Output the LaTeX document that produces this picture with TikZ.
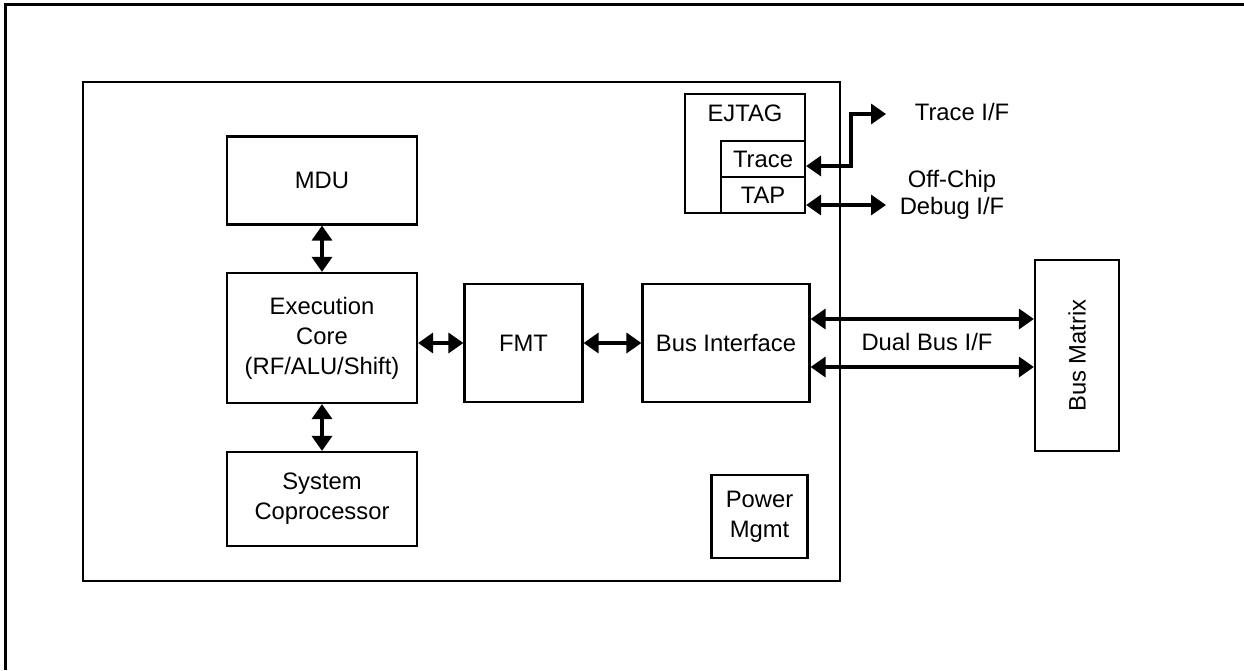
\documentclass[tikz,border=0pt]{standalone}
\usepackage{fontspec}
\setmainfont{Liberation Sans}
\usetikzlibrary{arrows.meta}

\begin{document}
\begin{tikzpicture}[x=1pt,y=-1pt,
    blk/.style={draw,line width=2.2pt,inner sep=0pt,align=center,
      font=\fontsize{23.8}{30}\selectfont},
    lbl/.style={inner sep=0pt,align=center,font=\fontsize{23.8}{30}\selectfont},
    dblarr/.style={line width=3.5pt,line join=miter,
      {Triangle[length=15pt,width=20pt]}-{Triangle[length=15pt,width=20pt]}},
    onearr/.style={line width=3.5pt,-{Triangle[length=15pt,width=20pt]}}]
    \useasboundingbox (0,0) rectangle (1244,670);
    % page frame (cut at right and bottom)
    \draw[line width=3pt] (5,670) -- (5,4) -- (1244,4);
    % core
    \node[blk,minimum width=757,minimum height=499] (chip) at (461.5,331.5) {};
    \node[blk,minimum width=190,minimum height=88] (mdu) at (322,180.5) {MDU};
    \node[blk,minimum width=190,minimum height=130] (exec) at (322,338)
      {Execution\\Core\\(RF/ALU/Shift)};
    \node[blk,minimum width=190,minimum height=94] (sysco) at (322,499)
      {System\\Coprocessor};
    \node[blk,minimum width=118,minimum height=118] (fmt) at (523.5,343) {FMT};
    \node[blk,minimum width=167,minimum height=118] (busif) at (726,343) {Bus Interface};
    \node[blk,minimum width=96,minimum height=83] (power) at (759.5,516.5) {Power\\Mgmt};
    % ejtag
    \node[blk,minimum width=120,minimum height=119] (ejtag) at (745,153.5) {};
    \node[lbl] (ejtagtxt) at (745,113) {EJTAG};
    \node[blk,minimum width=84,minimum height=36] (trace) at (763,159) {Trace};
    \node[blk,minimum width=84,minimum height=36] (tap) at (763,195) {TAP};
    % outside
    \node[blk,rotate=90,minimum width=191,minimum height=84] (busmtx) at (1077,355.5)
      {Bus Matrix};
    \node[lbl] (traceif) at (962,112) {Trace I/F};
    \node[lbl,font=\fontsize{23.8}{27}\selectfont] (offchip) at (952,195)
      {Off-Chip\\Debug I/F};
    \node[lbl] (dualbus) at (927,342) {Dual Bus I/F};
    \coordinate (traceout) at (886,114);
    \coordinate (tapout) at (886,205);
    % connectors
    \draw[dblarr] (mdu) -- (exec);
    \draw[dblarr] (exec) -- (sysco);
    \draw[dblarr] (fmt.west -| exec.east) -- (fmt.west);
    \draw[dblarr] (fmt) -- (busif);
    \draw[dblarr] ([yshift=24pt]busif.east) -- ([yshift=24pt]busif.east -| busmtx.north);
    \draw[dblarr] ([yshift=-24pt]busif.east) -- ([yshift=-24pt]busif.east -| busmtx.north);
    \draw[dblarr] ([yshift=-7pt]trace.east) -- ++(45,0) |- (traceout);
    \draw[dblarr] (tap.east |- tapout) -- (tapout);
\end{tikzpicture}
\end{document}
